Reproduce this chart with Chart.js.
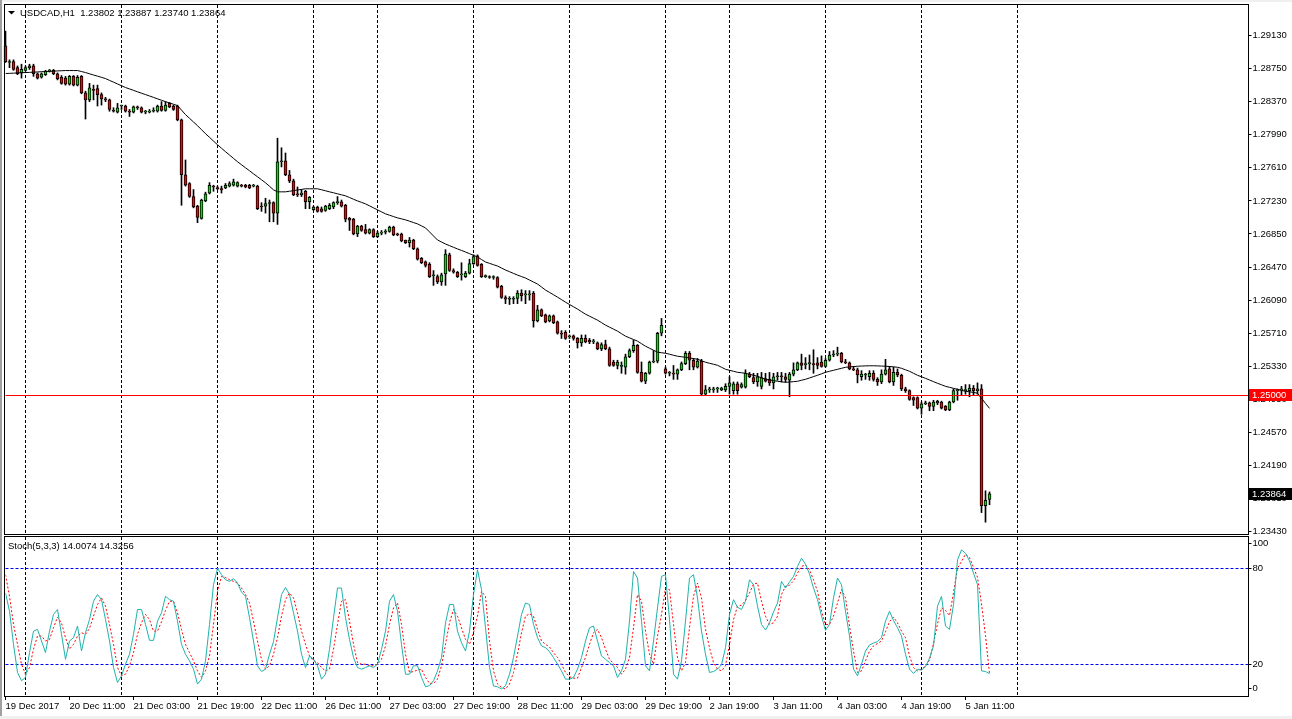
<!DOCTYPE html>
<html>
<head>
<meta charset="utf-8">
<script src="https://cdn.jsdelivr.net/npm/chart.js@4.4.0/dist/chart.umd.min.js"></script>
<style>
  html, body { margin: 0; padding: 0; background: #fff; }
  body { width: 1292px; height: 719px; position: relative; overflow: hidden; }
  canvas { position: absolute; left: 0; }
  #main { top: 0; }
  #stoch { top: 536px; }
  .edge { position: absolute; background: #f0f0f0; }
</style>
</head>
<body>
<canvas id="main" width="1292" height="536"></canvas>
<canvas id="stoch" width="1292" height="183"></canvas>
<div class="edge" style="left:0;top:0;width:1292px;height:2px"></div>
<div class="edge" style="left:0;top:0;width:2px;height:719px;background:#a0a0a0"></div>
<div class="edge" style="left:0;top:716px;width:1292px;height:3px"></div>
<script>
// USDCAD H1, 19 Dec 2017 19:00 .. 5 Jan 2018 17:00
const SYMBOL = 'USDCAD,H1';

// trading sessions: day, first hour, last hour
const SESSIONS = [
  ['19 Dec', 19, 23], ['20 Dec', 0, 23], ['21 Dec', 0, 23], ['22 Dec', 0, 23],
  ['26 Dec', 8, 23], ['27 Dec', 0, 23], ['28 Dec', 0, 23], ['29 Dec', 0, 23],
  ['2 Jan', 8, 23], ['3 Jan', 0, 23], ['4 Jan', 0, 23], ['5 Jan', 0, 17]
];
const FIRST_LABEL = '19 Dec 2017';
const TICK_BARS = [0, 16, 32, 48, 64, 80, 96, 112, 128, 144, 160, 176, 192, 208, 224, 240];
const PRICE_TICKS = [1.23430, 1.23810, 1.24190, 1.24570, 1.24950, 1.25330, 1.25710, 1.26090,
  1.26470, 1.26850, 1.27230, 1.27610, 1.27990, 1.28370, 1.28750, 1.29130];
const STOCH_TICKS = [0, 20, 80, 100];
const STOCH_LEVELS = [20, 80];
const LEVEL = 1.25;

const OPEN = [
  1.2901,1.2882,1.2883,1.2876,1.2870,1.2873,1.2876,1.2878,1.2869,1.2865,
  1.2868,1.2872,1.2873,1.2869,1.2865,1.2864,1.2857,1.2866,1.2856,1.2866,
  1.2847,1.2839,1.2851,1.2852,1.2845,1.2840,1.2839,1.2827,1.2825,1.2832,
  1.2832,1.2826,1.2825,1.2831,1.2830,1.2825,1.2825,1.2826,1.2826,1.2832,
  1.2827,1.2835,1.2832,1.2832,1.2816,1.2753,1.2743,1.2728,1.2717,1.2703,
  1.2723,1.2732,1.2740,1.2738,1.2737,1.2738,1.2740,1.2741,1.2740,1.2741,
  1.2741,1.2741,1.2740,1.2740,1.2717,1.2717,1.2720,1.2721,1.2709,1.2768,
  1.2769,1.2753,1.2746,1.2731,1.2730,1.2734,1.2722,1.2713,1.2716,1.2714,
  1.2712,1.2714,1.2716,1.2721,1.2722,1.2718,1.2703,1.2702,1.2685,1.2694,
  1.2690,1.2686,1.2690,1.2682,1.2686,1.2687,1.2688,1.2693,1.2685,1.2685,
  1.2678,1.2675,1.2678,1.2668,1.2657,1.2653,1.2650,1.2637,1.2636,1.2630,
  1.2639,1.2661,1.2643,1.2641,1.2638,1.2636,1.2640,1.2651,1.2660,1.2650,
  1.2636,1.2636,1.2635,1.2635,1.2625,1.2612,1.2610,1.2610,1.2611,1.2617,
  1.2615,1.2615,1.2617,1.2585,1.2598,1.2592,1.2585,1.2591,1.2584,1.2571,
  1.2572,1.2567,1.2568,1.2565,1.2560,1.2565,1.2563,1.2561,1.2560,1.2553,
  1.2558,1.2553,1.2538,1.2534,1.2533,1.2532,1.2544,1.2551,1.2557,1.2526,
  1.2516,1.2525,1.2538,1.2539,1.2571,1.2530,1.2525,1.2525,1.2524,1.2529,
  1.2536,1.2548,1.2540,1.2532,1.2539,1.2501,1.2506,1.2506,1.2507,1.2506,
  1.2506,1.2510,1.2505,1.2513,1.2509,1.2509,1.2524,1.2520,1.2515,1.2510,
  1.2519,1.2518,1.2514,1.2521,1.2522,1.2521,1.2517,1.2524,1.2529,1.2537,
  1.2535,1.2536,1.2536,1.2537,1.2538,1.2533,1.2540,1.2546,1.2547,1.2548,
  1.2538,1.2537,1.2530,1.2529,1.2521,1.2523,1.2521,1.2525,1.2518,1.2515,
  1.2524,1.2530,1.2515,1.2526,1.2523,1.2507,1.2505,1.2497,1.2497,1.2485,
  1.2490,1.2491,1.2487,1.2491,1.2492,1.2487,1.2483,1.2492,1.2505,1.2506,
  1.2505,1.2505,1.2508,1.2505,1.2507,1.2373,1.23802
];
const HIGH = [
  1.2918,1.2885,1.2885,1.2878,1.2880,1.2878,1.2880,1.2880,1.2870,1.2870,
  1.2873,1.2874,1.2874,1.2870,1.2867,1.2866,1.2867,1.2867,1.2867,1.2867,
  1.2849,1.2858,1.2856,1.2856,1.2847,1.2842,1.2840,1.2830,1.2835,1.2833,
  1.2833,1.2828,1.2832,1.2832,1.2831,1.2827,1.2828,1.2830,1.2833,1.2837,
  1.2837,1.2836,1.2833,1.2833,1.2817,1.2770,1.2744,1.2736,1.2718,1.2725,
  1.2733,1.2744,1.2741,1.2740,1.2740,1.2743,1.2745,1.2748,1.2745,1.2742,
  1.2742,1.2742,1.2742,1.2741,1.2721,1.2726,1.2724,1.2722,1.2795,1.2784,
  1.2778,1.2758,1.2748,1.2739,1.2736,1.2735,1.2728,1.2717,1.2717,1.2716,
  1.2718,1.2720,1.2722,1.2728,1.2724,1.2719,1.2704,1.2703,1.2695,1.2695,
  1.2696,1.2691,1.2691,1.2688,1.2689,1.2690,1.2694,1.2694,1.2686,1.2686,
  1.2678,1.2681,1.2679,1.2669,1.2658,1.2654,1.2652,1.2643,1.2638,1.2640,
  1.2667,1.2663,1.2645,1.2642,1.2652,1.2642,1.2656,1.2661,1.2661,1.2651,
  1.2638,1.2637,1.2637,1.2636,1.2626,1.2614,1.2613,1.2613,1.2620,1.2621,
  1.2620,1.2620,1.2619,1.2603,1.2599,1.2593,1.2592,1.2592,1.2585,1.2574,
  1.2574,1.2569,1.2569,1.2566,1.2569,1.2569,1.2565,1.2564,1.2561,1.2560,
  1.2563,1.2555,1.2540,1.2540,1.2538,1.2547,1.2553,1.2563,1.2558,1.2538,
  1.2526,1.2539,1.2551,1.2572,1.2588,1.2532,1.2527,1.2534,1.2530,1.2538,
  1.2550,1.2550,1.2542,1.2542,1.2541,1.2511,1.2509,1.2509,1.2509,1.2509,
  1.2513,1.2521,1.2515,1.2515,1.2514,1.2529,1.2526,1.2525,1.2525,1.2526,
  1.2525,1.2526,1.2525,1.2526,1.2526,1.2525,1.2526,1.2537,1.2538,1.2547,
  1.2543,1.2546,1.2552,1.2543,1.2545,1.2542,1.2550,1.2551,1.2555,1.2549,
  1.2541,1.2538,1.2533,1.2531,1.2528,1.2525,1.2528,1.2528,1.2520,1.2529,
  1.2541,1.2533,1.2532,1.2530,1.2524,1.2509,1.2506,1.2498,1.2498,1.2492,
  1.2493,1.2492,1.2494,1.2494,1.2493,1.2488,1.2493,1.2507,1.2507,1.2510,
  1.2512,1.2512,1.2511,1.2514,1.2512,1.2390,1.23887
];
const LOW = [
  1.2882,1.2876,1.2873,1.2868,1.2864,1.2872,1.2874,1.2866,1.2863,1.2864,
  1.2867,1.2871,1.2868,1.2862,1.2857,1.2856,1.2856,1.2855,1.2855,1.2846,
  1.2817,1.2837,1.2839,1.2832,1.2833,1.2837,1.2826,1.2825,1.2824,1.2828,
  1.2825,1.2820,1.2824,1.2828,1.2824,1.2823,1.2824,1.2825,1.2825,1.2826,
  1.2826,1.2830,1.2827,1.2815,1.2718,1.2740,1.2727,1.2715,1.2698,1.2702,
  1.2722,1.2731,1.2734,1.2736,1.2732,1.2737,1.2739,1.2740,1.2739,1.2739,
  1.2738,1.2737,1.2739,1.2713,1.2711,1.2709,1.2699,1.2699,1.2696,1.2762,
  1.2752,1.2744,1.2729,1.2728,1.2728,1.2714,1.2714,1.2712,1.2710,1.2710,
  1.2711,1.2713,1.2714,1.2719,1.2716,1.2699,1.2689,1.2684,1.2682,1.2688,
  1.2685,1.2685,1.2681,1.2681,1.2684,1.2685,1.2687,1.2683,1.2683,1.2676,
  1.2674,1.2670,1.2667,1.2655,1.2651,1.2647,1.2635,1.2626,1.2628,1.2626,
  1.2626,1.2642,1.2640,1.2635,1.2632,1.2635,1.2639,1.2650,1.2648,1.2635,
  1.2635,1.2634,1.2633,1.2623,1.2611,1.2605,1.2604,1.2605,1.2605,1.2608,
  1.2605,1.2609,1.2578,1.2584,1.2590,1.2583,1.2584,1.2582,1.2570,1.2565,
  1.2564,1.2565,1.2563,1.2554,1.2556,1.2560,1.2559,1.2559,1.2552,1.2551,
  1.2552,1.2533,1.2533,1.2530,1.2525,1.2524,1.2543,1.2549,1.2525,1.2515,
  1.2513,1.2524,1.2537,1.2537,1.2568,1.2524,1.2522,1.2518,1.2518,1.2528,
  1.2535,1.2529,1.2529,1.2531,1.2500,1.2500,1.2503,1.2503,1.2503,1.2505,
  1.2504,1.2501,1.2501,1.2501,1.2508,1.2508,1.2520,1.2513,1.2510,1.2507,
  1.2515,1.2511,1.2507,1.2517,1.2515,1.2515,1.2498,1.2522,1.2528,1.2529,
  1.2530,1.2529,1.2525,1.2530,1.2532,1.2532,1.2539,1.2544,1.2545,1.2537,
  1.2536,1.2529,1.2528,1.2514,1.2517,1.2518,1.2517,1.2516,1.2511,1.2513,
  1.2523,1.2514,1.2511,1.2521,1.2505,1.2503,1.2494,1.2488,1.2484,1.2478,
  1.2489,1.2482,1.2482,1.2489,1.2484,1.2482,1.2482,1.2491,1.2494,1.2500,
  1.2501,1.2498,1.2500,1.2501,1.2365,1.2354,1.23740
];
const CLOSE = [
  1.2883,1.2883,1.2874,1.2869,1.2874,1.2876,1.2878,1.2869,1.2864,1.2869,
  1.2872,1.2873,1.2869,1.2863,1.2858,1.2857,1.2866,1.2856,1.2865,1.2847,
  1.2839,1.2853,1.2850,1.2845,1.2840,1.2839,1.2828,1.2826,1.2830,1.2832,
  1.2826,1.2825,1.2831,1.2830,1.2825,1.2825,1.2825,1.2827,1.2832,1.2827,
  1.2833,1.2831,1.2828,1.2816,1.2753,1.2741,1.2728,1.2716,1.2704,1.2724,
  1.2731,1.2741,1.2739,1.2737,1.2736,1.2741,1.2743,1.2745,1.2744,1.2740,
  1.2739,1.2738,1.2740,1.2714,1.2716,1.2720,1.2721,1.2709,1.2768,1.2769,
  1.2753,1.2746,1.2730,1.2730,1.2732,1.2722,1.2727,1.2716,1.2711,1.2711,
  1.2717,1.2718,1.2721,1.2721,1.2717,1.2702,1.2701,1.2685,1.2694,1.2689,
  1.2686,1.2690,1.2682,1.2686,1.2687,1.2688,1.2693,1.2684,1.2684,1.2677,
  1.2675,1.2678,1.2668,1.2656,1.2652,1.2649,1.2636,1.2638,1.2630,1.2638,
  1.2662,1.2643,1.2641,1.2636,1.2639,1.2640,1.2651,1.2659,1.2649,1.2636,
  1.2636,1.2635,1.2635,1.2624,1.2612,1.2610,1.2610,1.2611,1.2617,1.2614,
  1.2616,1.2616,1.2585,1.2598,1.2591,1.2584,1.2591,1.2583,1.2571,1.2570,
  1.2565,1.2568,1.2565,1.2560,1.2565,1.2561,1.2561,1.2562,1.2553,1.2558,
  1.2553,1.2534,1.2534,1.2538,1.2533,1.2544,1.2551,1.2557,1.2526,1.2516,
  1.2525,1.2538,1.2539,1.2571,1.2580,1.2525,1.2525,1.2524,1.2529,1.2536,
  1.2548,1.2540,1.2532,1.2539,1.2501,1.2506,1.2506,1.2507,1.2507,1.2508,
  1.2510,1.2514,1.2513,1.2505,1.2512,1.2525,1.2521,1.2515,1.2521,1.2520,
  1.2516,1.2514,1.2521,1.2522,1.2521,1.2518,1.2524,1.2529,1.2537,1.2534,
  1.2536,1.2536,1.2535,1.2534,1.2533,1.2540,1.2546,1.2547,1.2547,1.2538,
  1.2537,1.2530,1.2529,1.2523,1.2524,1.2523,1.2525,1.2518,1.2515,1.2524,
  1.2529,1.2515,1.2526,1.2523,1.2507,1.2505,1.2495,1.2494,1.2485,1.2490,
  1.2491,1.2487,1.2492,1.2493,1.2485,1.2483,1.2492,1.2505,1.2506,1.2507,
  1.2506,1.2508,1.2505,1.2507,1.2373,1.2379,1.23864
];
// moving average drawn on the price panel
const MA = [
  1.28693,1.28695,1.28697,1.28700,1.28702,1.28704,1.28706,1.28709,1.28711,1.28714,
  1.28716,1.28718,1.28720,1.28723,1.28725,1.28727,1.28727,1.28727,1.28727,1.28716,
  1.28704,1.28690,1.28676,1.28663,1.28649,1.28635,1.28614,1.28594,1.28573,1.28553,
  1.28532,1.28516,1.28500,1.28483,1.28467,1.28451,1.28435,1.28419,1.28402,1.28386,
  1.28370,1.28355,1.28340,1.28324,1.28273,1.28221,1.28179,1.28136,1.28094,1.28048,
  1.28002,1.27960,1.27917,1.27875,1.27835,1.27795,1.27757,1.27718,1.27680,1.27645,
  1.27610,1.27576,1.27541,1.27507,1.27473,1.27438,1.27398,1.27357,1.27334,1.27334,
  1.27334,1.27341,1.27348,1.27355,1.27362,1.27369,1.27369,1.27369,1.27369,1.27358,
  1.27346,1.27334,1.27323,1.27311,1.27300,1.27288,1.27269,1.27249,1.27230,1.27213,
  1.27196,1.27173,1.27150,1.27127,1.27104,1.27081,1.27066,1.27050,1.27035,1.27024,
  1.27012,1.26997,1.26981,1.26966,1.26943,1.26920,1.26874,1.26827,1.26781,1.26758,
  1.26735,1.26716,1.26697,1.26678,1.26661,1.26643,1.26624,1.26605,1.26586,1.26557,
  1.26528,1.26513,1.26497,1.26482,1.26459,1.26436,1.26417,1.26397,1.26378,1.26361,
  1.26344,1.26321,1.26298,1.26275,1.26241,1.26206,1.26179,1.26152,1.26125,1.26096,
  1.26067,1.26040,1.26014,1.25987,1.25958,1.25929,1.25906,1.25883,1.25860,1.25832,
  1.25803,1.25780,1.25757,1.25734,1.25705,1.25676,1.25657,1.25638,1.25619,1.25590,
  1.25561,1.25538,1.25515,1.25492,1.25486,1.25480,1.25469,1.25457,1.25446,1.25440,
  1.25434,1.25426,1.25419,1.25411,1.25394,1.25377,1.25365,1.25354,1.25342,1.25319,
  1.25296,1.25284,1.25273,1.25261,1.25256,1.25250,1.25238,1.25227,1.25215,1.25198,
  1.25181,1.25173,1.25166,1.25158,1.25152,1.25146,1.25150,1.25154,1.25158,1.25170,
  1.25181,1.25196,1.25212,1.25227,1.25244,1.25261,1.25273,1.25284,1.25296,1.25307,
  1.25319,1.25323,1.25327,1.25331,1.25333,1.25335,1.25336,1.25336,1.25335,1.25333,
  1.25331,1.25328,1.25324,1.25319,1.25307,1.25290,1.25273,1.25250,1.25227,1.25210,
  1.25192,1.25173,1.25154,1.25135,1.25118,1.25100,1.25089,1.25077,1.25066,1.25054,
  1.25043,1.25037,1.25031,1.25020,1.24962,1.24904,1.24847
];
// Stoch(5,3,3) main and signal
const STOCH_K = [
  64.8,53.3,32.5,14.8,9.6,11.7,27.3,40.8,41.9,34.6,
  27.3,40.8,51.3,54.4,38.8,23.1,34.6,36.7,44.0,28.3,
  39.8,48.1,59.6,63.8,60.6,48.1,34.6,17.9,8.5,12.7,
  20.0,26.3,38.8,54.4,54.4,45.0,35.0,35.0,47.1,52.3,
  62.7,60.6,59.6,47.1,32.5,26.3,22.1,16.9,7.5,10.6,
  22.1,45.0,70.0,80.4,76.3,73.1,72.1,73.8,71.0,65.4,
  62.7,49.2,34.6,19.0,15.4,16.9,26.3,34.2,49.2,63.8,
  68.3,63.8,52.3,40.8,26.3,17.9,25.2,23.1,19.0,10.6,
  13.7,29.4,49.2,67.9,67.9,49.2,35.6,24.2,17.9,16.9,
  17.9,19.0,17.9,20.0,29.4,40.8,59.6,63.8,53.3,32.5,
  13.7,13.7,19.0,19.0,11.7,5.8,6.5,9.6,15.8,24.2,
  46.0,57.5,57.5,40.8,33.5,28.3,40.8,63.8,79.4,66.9,
  42.9,17.9,6.3,5.8,4.4,6.5,13.7,24.2,37.7,51.3,
  58.5,57.5,45.0,36.7,31.5,30.4,27.9,24.2,20.0,15.8,
  10.6,10.6,11.7,16.9,24.2,34.6,42.9,44.0,34.6,25.2,
  23.1,21.0,19.0,11.7,15.8,23.1,47.1,78.3,74.2,47.1,
  19.0,15.8,34.6,55.4,75.2,76.3,48.1,13.7,10.6,22.1,
  47.1,74.2,76.3,61.7,40.8,26.3,14.8,15.4,16.9,19.6,
  30.4,51.3,60.6,55.8,54.4,59.6,73.1,70.0,56.5,45.0,
  41.5,46.0,52.9,58.5,72.1,67.9,71.7,75.2,81.5,86.7,
  82.9,76.7,67.9,60.6,50.2,41.3,45.0,61.7,74.2,70.0,
  53.3,37.7,16.9,12.7,20.0,28.3,32.1,33.3,34.2,36.7,
  47.1,53.3,47.5,42.9,37.7,26.3,16.9,14.2,16.9,16.3,
  18.5,23.8,31.5,56.5,62.7,44.0,41.9,57.5,85.6,91.9,
  89.8,85.0,77.3,70.0,15.8,15.4,14.0074
];
const STOCH_D = [
  76.3,62.7,45.0,32.5,20.0,13.7,17.9,29.4,37.7,37.7,
  34.6,35.6,42.9,49.6,46.0,36.7,29.4,32.5,37.7,39.8,
  38.8,42.5,50.2,57.5,61.7,56.5,45.0,32.5,17.9,12.7,
  13.7,19.0,27.3,38.8,46.0,51.3,48.1,40.8,40.8,46.7,
  53.8,59.6,59.6,52.3,41.9,32.5,27.3,22.1,15.8,11.7,
  15.8,25.2,45.0,65.8,75.2,74.6,73.1,72.1,71.0,67.9,
  63.8,58.5,47.1,34.6,23.1,16.9,19.0,26.3,36.7,50.2,
  60.6,64.8,61.7,52.3,40.8,32.5,25.2,22.1,21.0,17.9,
  15.8,16.9,29.4,45.0,59.6,60.6,47.1,32.5,21.0,20.0,
  20.0,19.0,19.0,20.0,23.1,31.5,45.0,55.4,58.5,45.0,
  26.3,14.8,15.4,16.3,16.9,11.7,7.9,7.9,10.6,19.0,
  32.5,46.0,54.4,50.2,42.9,35.6,32.5,39.8,50.2,65.8,
  62.7,34.6,15.8,7.5,5.4,4.4,7.5,14.8,26.3,39.8,
  50.2,51.7,50.2,41.9,34.6,32.5,30.8,27.3,24.2,20.0,
  14.8,12.1,11.2,11.2,17.9,24.2,32.5,39.8,41.9,36.7,
  29.4,23.1,20.4,17.9,13.7,16.9,24.2,42.9,63.8,59.6,
  40.8,26.3,20.0,37.7,51.3,67.9,66.9,45.0,24.2,15.8,
  21.0,42.9,62.7,71.0,61.7,41.9,30.4,21.0,16.9,15.8,
  19.0,32.5,48.1,56.5,57.1,60.0,64.8,70.4,71.0,59.6,
  50.2,45.0,46.0,50.2,63.8,69.0,69.6,72.5,77.3,81.5,
  82.5,79.4,73.1,65.8,53.3,45.0,45.0,50.2,58.5,66.9,
  61.7,44.0,28.3,14.8,15.8,22.1,28.3,31.5,33.0,34.6,
  40.4,46.7,49.6,46.0,40.8,36.7,25.2,17.9,15.8,16.9,
  18.7,22.5,33.0,45.4,55.4,53.8,50.6,64.8,80.4,84.6,
  89.2,87.1,80.8,74.6,58.0,38.0,14.3256
];

// ---- derived ----
const TIMES = [];
const DAY_LINES = [];
SESSIONS.forEach(([day, from, to], s) => {
  if (s > 0) DAY_LINES.push(TIMES.length);
  for (let h = from; h <= to; h++) TIMES.push(day + ' ' + String(h).padStart(2, '0') + ':00');
});
DAY_LINES.push(DAY_LINES[DAY_LINES.length - 1] + 24); // next midnight, in the empty right margin

const X_MAX = 310.75;          // bars that fit the window (incl. empty shift area)
const Y_MIN = 1.23404, Y_MAX = 1.29480;
const BULL = '#00e000', BEAR = '#ff0000';
const FONT = '"Liberation Sans", Arial, sans-serif';
const AXIS_W = 43.5;

Chart.defaults.font.family = FONT;
Chart.defaults.font.size = 9.5;
Chart.defaults.color = '#000';

const idx = OPEN.map((_, i) => i);
const last = idx.length - 1;

function dayGrid(chart) {
  const { ctx, chartArea: a, scales: { x } } = chart;
  ctx.save();
  ctx.strokeStyle = '#000';
  ctx.lineWidth = 1;
  ctx.setLineDash([3, 2]);
  DAY_LINES.forEach(i => {
    const px = Math.floor(x.getPixelForValue(i)) + 0.5;
    ctx.beginPath();
    ctx.moveTo(px, a.top);
    ctx.lineTo(px, a.bottom);
    ctx.stroke();
  });
  ctx.restore();
}

function frame(chart) {
  const { ctx, chartArea: a } = chart;
  ctx.save();
  ctx.strokeStyle = '#000';
  ctx.lineWidth = 1;
  ctx.strokeRect(a.left - 1, a.top - 0.5, a.right - a.left + 1, a.bottom - a.top + 1);
  ctx.restore();
}

function hLine(chart, value, color, dash) {
  const { ctx, chartArea: a, scales: { y } } = chart;
  const py = Math.floor(y.getPixelForValue(value)) + 0.5;
  ctx.save();
  ctx.strokeStyle = color;
  ctx.lineWidth = 1;
  ctx.setLineDash(dash);
  ctx.beginPath();
  ctx.moveTo(a.left, py);
  ctx.lineTo(a.right, py);
  ctx.stroke();
  ctx.restore();
}

function priceTag(chart, value, bg) {
  const { ctx, chartArea: a, scales: { y } } = chart;
  const py = Math.round(y.getPixelForValue(value));
  ctx.save();
  ctx.fillStyle = bg;
  ctx.fillRect(Math.ceil(a.right), py - 6, 1292 - Math.ceil(a.right), 12);
  ctx.fillStyle = '#fff';
  ctx.font = '9.5px ' + FONT;
  ctx.textBaseline = 'middle';
  ctx.fillText(value.toFixed(5), 1252, py + 0.5);
  ctx.restore();
}

const mainDecor = {
  id: 'mainDecor',
  beforeDatasetsDraw(chart) { dayGrid(chart); },
  afterDatasetsDraw(chart) { hLine(chart, LEVEL, '#ff0000', []); },
  afterDraw(chart) {
    const { ctx } = chart;
    frame(chart);
    priceTag(chart, LEVEL, '#ff0000');
    priceTag(chart, CLOSE[last], '#000');
    ctx.save();
    ctx.fillStyle = '#000';
    ctx.beginPath();
    ctx.moveTo(8, 11); ctx.lineTo(15, 11); ctx.lineTo(11.5, 14.5);
    ctx.closePath();
    ctx.fill();
    ctx.font = '9.5px ' + FONT;
    ctx.textBaseline = 'middle';
    const ohlc = [OPEN[last], HIGH[last], LOW[last], CLOSE[last]].map(v => v.toFixed(5)).join(' ');
    ctx.fillText(SYMBOL + '  ' + ohlc, 20, 13);
    ctx.restore();
  }
};

const stochDecor = {
  id: 'stochDecor',
  beforeDatasetsDraw(chart) {
    dayGrid(chart);
    STOCH_LEVELS.forEach(v => hLine(chart, v, '#0000ff', [3, 2]));
  },
  afterDraw(chart) {
    const { ctx } = chart;
    frame(chart);
    ctx.save();
    ctx.fillStyle = '#000';
    ctx.font = '9.5px ' + FONT;
    ctx.textBaseline = 'middle';
    ctx.fillText('Stoch(5,3,3) ' + STOCH_K[last].toFixed(4) + ' ' + STOCH_D[last].toFixed(4), 8, 10);
    ctx.restore();
  }
};

const xAxisBase = { type: 'linear', min: 0, max: X_MAX, offset: false };

new Chart(document.getElementById('main'), {
  type: 'bar',
  data: {
    datasets: [
      {
        label: 'wick',
        data: idx.map(i => ({ x: i, y: [LOW[i], HIGH[i]] })),
        backgroundColor: '#000',
        borderWidth: 0,
        barThickness: 1,
        grouped: false,
        minBarLength: 1,
        clip: false,
        order: 3
      },
      {
        label: 'body',
        data: idx.map(i => ({ x: i, y: [OPEN[i], CLOSE[i]] })),
        backgroundColor: idx.map(i => CLOSE[i] >= OPEN[i] ? BULL : BEAR),
        borderColor: '#000',
        borderWidth: 1,
        borderSkipped: false,
        barThickness: 3,
        grouped: false,
        minBarLength: 1,
        clip: false,
        order: 2
      },
      {
        type: 'line',
        label: 'MA',
        data: idx.map(i => ({ x: i, y: MA[i] })),
        borderColor: '#000',
        borderWidth: 1,
        pointRadius: 0,
        tension: 0,
        order: 1
      }
    ]
  },
  options: {
    responsive: false,
    animation: false,
    devicePixelRatio: 1,
    layout: { padding: { left: 5.5, top: 5, right: 0, bottom: 2 } },
    plugins: { legend: { display: false }, tooltip: { enabled: false } },
    scales: {
      x: { ...xAxisBase, display: false },
      y: {
        position: 'right',
        min: Y_MIN,
        max: Y_MAX,
        afterBuildTicks: s => { s.ticks = PRICE_TICKS.map(v => ({ value: v })); },
        afterFit: s => { s.width = AXIS_W; s.paddingTop = 0; s.paddingBottom = 0; },
        grid: { drawOnChartArea: false, drawTicks: true, tickLength: 3, color: '#000' },
        border: { display: false },
        ticks: { padding: 1, autoSkip: false, callback: v => v.toFixed(5) }
      }
    }
  },
  plugins: [mainDecor]
});

new Chart(document.getElementById('stoch'), {
  type: 'line',
  data: {
    datasets: [
      {
        label: 'Main',
        data: idx.map(i => ({ x: i, y: STOCH_K[i] })),
        borderColor: '#20b2aa',
        borderWidth: 1,
        pointRadius: 0,
        tension: 0
      },
      {
        label: 'Signal',
        data: idx.map(i => ({ x: i, y: STOCH_D[i] })),
        borderColor: '#ff0000',
        borderWidth: 1,
        borderDash: [2, 2],
        pointRadius: 0,
        tension: 0
      }
    ]
  },
  options: {
    responsive: false,
    animation: false,
    devicePixelRatio: 1,
    layout: { padding: { left: 5.5, top: 1, right: 0, bottom: 0 } },
    plugins: { legend: { display: false }, tooltip: { enabled: false } },
    scales: {
      x: {
        ...xAxisBase,
        position: 'bottom',
        afterBuildTicks: s => { s.ticks = TICK_BARS.map(v => ({ value: v })); },
        afterFit: s => { s.height = 23; s.paddingLeft = 0; s.paddingRight = 0; },
        grid: { drawOnChartArea: false, drawTicks: true, tickLength: 4, color: '#000' },
        border: { display: false },
        ticks: {
          align: 'start',
          maxRotation: 0,
          autoSkip: false,
          padding: 1,
          callback: v => (v === 0 ? FIRST_LABEL : TIMES[v])
        }
      },
      y: {
        position: 'right',
        min: 0,
        max: 100,
        // top and bottom labels sit just inside the panel, as in the terminal
        afterBuildTicks: s => { s.ticks = STOCH_TICKS.map(v => ({ value: v === 100 ? 96 : v === 0 ? 4.5 : v })); },
        afterFit: s => { s.width = AXIS_W; s.paddingTop = 0; s.paddingBottom = 0; },
        grid: { drawOnChartArea: false, drawTicks: true, tickLength: 3, color: '#000' },
        border: { display: false },
        ticks: { padding: 1, autoSkip: false, callback: v => (v > 90 ? '100' : v < 10 ? '0' : String(v)) }
      }
    }
  },
  plugins: [stochDecor]
});
</script>
</body>
</html>
